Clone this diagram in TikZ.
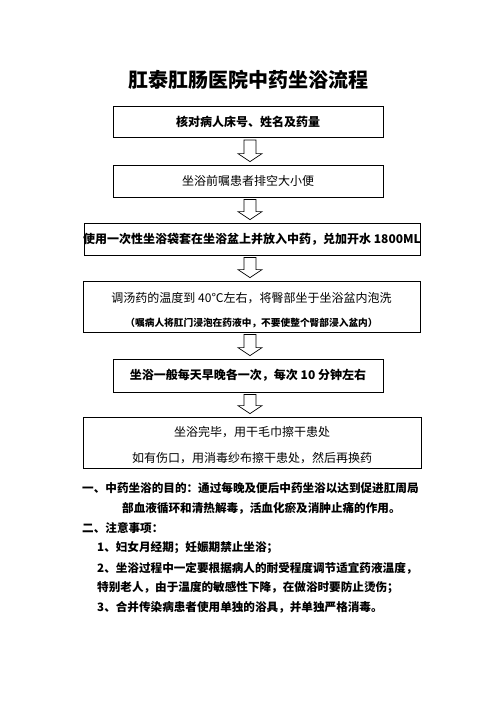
\documentclass[tikz,border=0pt]{standalone}
\usepackage{fontspec}
\setmainfont{Noto Sans CJK SC}
\usetikzlibrary{calc}

% hollow block arrow running down from one box to the next, on the axis x
\newcommand\flowarrow[2]{%
  \draw[hollow] let \p1=(#1.south -| axis), \p2=(#2.north -| axis) in
    (\x1-6pt,\y1-2pt) -- (\x1+6pt,\y1-2pt) -- (\x1+6pt,\y2+11pt)
    -- (\x1+12pt,\y2+11pt) -- (\x1,\y2+3pt) -- (\x1-12pt,\y2+11pt)
    -- (\x1-6pt,\y2+11pt) -- cycle;}

\begin{document}
\begin{tikzpicture}[x=1pt,y=-1pt,
  stepbox/.style={draw=black, line width=0.8pt, inner sep=0pt},
  boxtext/.style={inner sep=0pt, font=\fontsize{12}{14}\selectfont},
  boldtext/.style={inner sep=0pt, font=\fontsize{12}{14}\selectfont\bfseries},
  smalltext/.style={inner sep=0pt, font=\fontsize{9.7}{12}\selectfont\bfseries},
  note/.style={anchor=west, inner sep=0pt, font=\fontsize{11.6}{14}\selectfont\bfseries},
  hollow/.style={draw=black, line width=0.7pt, fill=white}]
\fill[white] (0,0) rectangle (496,702);
\useasboundingbox (0,0) rectangle (496,702);

\coordinate (axis) at (250,0);

% title
\node[inner sep=0pt, font=\fontsize{20}{24}\selectfont\bfseries] (title) at (248,80) {肛泰肛肠医院中药坐浴流程};

% flow boxes
\node[stepbox, minimum width=270pt, minimum height=31pt] (b1) at (248,122) {};
\node[boldtext] (t1) at (b1) {核对病人床号、姓名及药量};

\node[stepbox, minimum width=270pt, minimum height=32pt] (b2) at (248,181) {};
\node[boxtext] (t2) at (b2) {坐浴前嘱患者排空大小便};

\node[stepbox, minimum width=336pt, minimum height=32pt] (b3) at (252,239) {};
\node[boldtext] (t3) at (b3) {使用一次性坐浴袋套在坐浴盆上并放入中药，兑加开水 1800ML};

\node[stepbox, minimum width=337pt, minimum height=51pt] (b4) at (251.5,306.5) {};
\node[boxtext] (t4a) at (251.5,298) {调汤药的温度到 40℃左右，将臀部坐于坐浴盆内泡洗};
\node[smalltext] (t4b) at (251.5,323) {（嘱病人将肛门浸泡在药液中，不要使整个臀部浸入盆内）};

\node[stepbox, minimum width=270pt, minimum height=33pt] (b5) at (248,375.5) {};
\node[boldtext] (t5) at (b5) {坐浴一般每天早晚各一次，每次 10 分钟左右};

\node[stepbox, minimum width=338pt, minimum height=51pt] (b6) at (252,442.5) {};
\node[boxtext] (t6a) at (252,432) {坐浴完毕，用干毛巾擦干患处};
\node[boxtext] (t6b) at (252,458) {如有伤口，用消毒纱布擦干患处，然后再换药};

% arrows between the steps
\flowarrow{b1}{b2}
\flowarrow{b2}{b3}
\flowarrow{b3}{b4}
\flowarrow{b4}{b5}
\flowarrow{b5}{b6}

% notes
\node[note] (n1) at (82,488) {一、中药坐浴的目的：通过每晚及便后中药坐浴以达到促进肛周局};
\node[note] (n2) at (122,508) {部血液循环和清热解毒，活血化瘀及消肿止痛的作用。};
\node[note] (n3) at (82,528) {二、注意事项：};
\node[note] (n4) at (97,548) {1、妇女月经期；妊娠期禁止坐浴；};
\node[note] (n5) at (97,568) {2、坐浴过程中一定要根据病人的耐受程度调节适宜药液温度，};
\node[note] (n6) at (97,588) {特别老人，由于温度的敏感性下降，在做浴时要防止烫伤；};
\node[note] (n7) at (97,607) {3、合并传染病患者使用单独的浴具，并单独严格消毒。};
\end{tikzpicture}
\end{document}
